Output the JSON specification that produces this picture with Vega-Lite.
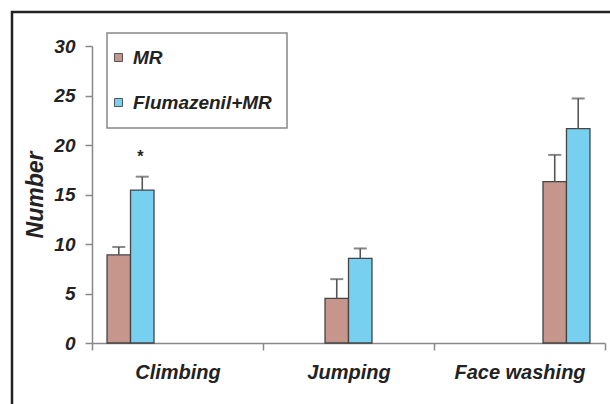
{
  "$schema": "https://vega.github.io/schema/vega-lite/v6.json",
  "autosize": {"type": "none"},
  "padding": {"left": 12, "top": 12, "right": -22, "bottom": -22},
  "width": 620,
  "height": 414,
  "background": "white",
  "config": {
    "view": {"stroke": "#222222", "strokeWidth": 2.5},
    "font": "Liberation Sans"
  },
  "data": {
    "values": [
      {"category": "Climbing", "group": "MR", "bar": "Climbing MR", "value": 8.9, "upper": 9.7, "sig": ""},
      {"category": "Climbing", "group": "Flumazenil+MR", "bar": "Climbing Flumazenil+MR", "value": 15.45, "upper": 16.8, "sig": "*"},
      {"category": "Jumping", "group": "MR", "bar": "Jumping MR", "value": 4.5, "upper": 6.45, "sig": ""},
      {"category": "Jumping", "group": "Flumazenil+MR", "bar": "Jumping Flumazenil+MR", "value": 8.55, "upper": 9.55, "sig": ""},
      {"category": "Face washing", "group": "MR", "bar": "Face washing MR", "value": 16.3, "upper": 19.0, "sig": ""},
      {"category": "Face washing", "group": "Flumazenil+MR", "bar": "Face washing Flumazenil+MR", "value": 21.65, "upper": 24.7, "sig": ""}
    ]
  },
  "encoding": {
    "x": {
      "field": "category",
      "type": "nominal",
      "sort": ["Climbing", "Jumping", "Face washing"],
      "scale": {"range": [{"expr": "80"}, {"expr": "593"}], "paddingInner": 0, "paddingOuter": 0},
      "axis": {
        "title": null,
        "labelAngle": 0,
        "offset": -83,
        "domainColor": "#888888",
        "domainWidth": 1.5,
        "tickColor": "#888888",
        "tickWidth": 1.5,
        "tickSize": 7,
        "tickBand": "extent",
        "labelPadding": 12,
        "labelFont": "Liberation Sans",
        "labelFontSize": 20,
        "labelFontStyle": "italic",
        "labelFontWeight": "bold",
        "labelColor": "#222222"
      }
    },
    "xOffset": {
      "field": "bar",
      "type": "nominal",
      "scale": {
        "domain": ["Climbing MR", "Climbing Flumazenil+MR", "Jumping MR", "Jumping Flumazenil+MR", "Face washing MR", "Face washing Flumazenil+MR"],
        "paddingInner": 0,
        "paddingOuter": 0.64
      }
    }
  },
  "layer": [
    {
      "mark": {"type": "bar", "stroke": "#444444", "strokeWidth": 1.3},
      "encoding": {
        "y": {
          "field": "value",
          "type": "quantitative",
          "scale": {"domain": [0, 30], "range": [331, 34], "nice": false},
          "axis": {
            "title": "Number",
            "values": [0, 5, 10, 15, 20, 25, 30],
            "grid": false,
            "offset": -80,
            "domainColor": "#888888",
            "domainWidth": 1.5,
            "tickColor": "#888888",
            "tickWidth": 1.5,
            "tickSize": 7,
            "labelPadding": 10,
            "labelFont": "Liberation Sans",
            "labelFontSize": 19,
            "labelFontStyle": "italic",
            "labelFontWeight": "bold",
            "labelColor": "#222222",
            "titleFont": "Liberation Sans",
            "titleFontSize": 23,
            "titleFontStyle": "italic",
            "titleFontWeight": "bold",
            "titleColor": "#222222",
            "titlePadding": 6
          }
        },
        "color": {
          "field": "group",
          "type": "nominal",
          "scale": {"domain": ["MR", "Flumazenil+MR"], "range": ["#c6958c", "#78d0f0"]},
          "legend": {
            "title": null,
            "orient": "none",
            "legendX": 95,
            "legendY": 21,
            "symbolType": "square",
            "symbolSize": 64,
            "symbolOffset": -13,
            "symbolStrokeColor": "#555555",
            "symbolStrokeWidth": 1,
            "labelFont": "Liberation Sans",
            "labelFontSize": 19,
            "labelFontStyle": "italic",
            "labelFontWeight": "bold",
            "labelColor": "#222222",
            "labelOffset": 5,
            "rowPadding": 25,
            "padding": 15,
            "strokeColor": "#888888",
            "encode": {"legend": {"update": {"strokeWidth": {"value": 1.5}}}}
          }
        }
      }
    },
    {
      "mark": {"type": "rule", "color": "#555555", "strokeWidth": 1.6},
      "encoding": {
        "y": {"field": "value", "type": "quantitative"},
        "y2": {"field": "upper"}
      }
    },
    {
      "mark": {"type": "tick", "color": "#555555", "size": 13, "thickness": 2},
      "encoding": {
        "y": {"field": "upper", "type": "quantitative"}
      }
    },
    {
      "transform": [{"filter": "datum.sig != ''"}],
      "mark": {"type": "text", "fontSize": 16, "fontWeight": "bold", "color": "#222222", "dy": -15, "dx": -2, "baseline": "alphabetic"},
      "encoding": {
        "y": {"field": "upper", "type": "quantitative"},
        "text": {"field": "sig"}
      }
    }
  ]
}
